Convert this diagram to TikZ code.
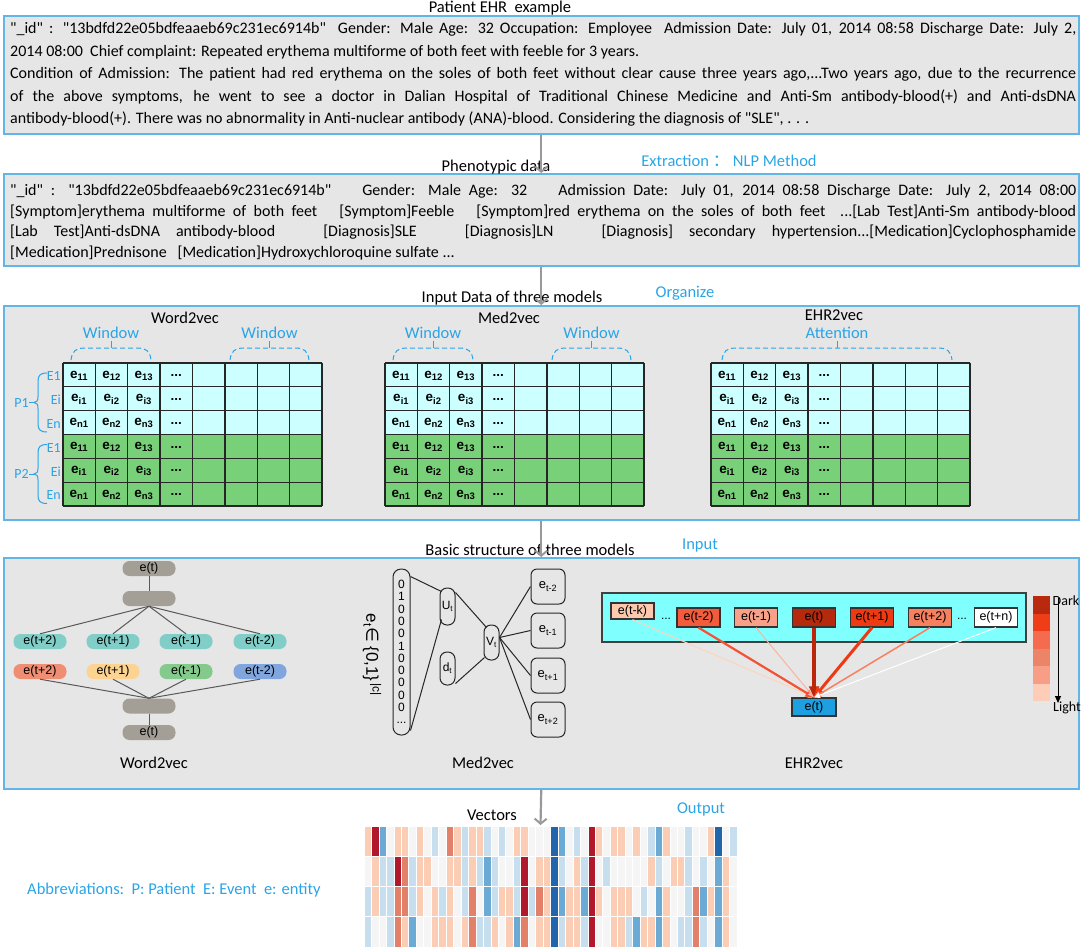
\documentclass[tikz,border=0pt]{standalone}
\usepackage{fontspec}
\setmainfont{Carlito}
\newfontfamily\bodyfont{Carlito}
\newfontfamily\arialfont{Liberation Sans}
\newfontfamily\dejavufont{DejaVu Sans}
\newfontfamily\cjkfont{Noto Sans CJK SC}
\usetikzlibrary{arrows.meta}

\definecolor{panelgray}{HTML}{E6E6E6}
\definecolor{panelblue}{HTML}{62B6E7}
\definecolor{noteblue}{HTML}{2AA4E6}
\definecolor{flowgray}{HTML}{999999}
\definecolor{cellcyan}{HTML}{CCFFFF}
\definecolor{cellgreen}{HTML}{78D078}
\definecolor{pillgray}{HTML}{A39E96}
\definecolor{pillteal}{HTML}{80CEC7}
\definecolor{pillsalmon}{HTML}{F08E74}
\definecolor{pillyellow}{HTML}{FDD391}
\definecolor{pillgreen}{HTML}{84CA8D}
\definecolor{pillblue}{HTML}{80A6DD}
\definecolor{ctxcyan}{HTML}{80FFFF}
\definecolor{tgtblue}{HTML}{1E9FE0}
\definecolor{ehrk}{HTML}{FCC9AE}
\definecolor{ehrmtwo}{HTML}{F35B3B}
\definecolor{ehrmone}{HTML}{F8A088}
\definecolor{ehrzero}{HTML}{B52A0C}
\definecolor{ehrpone}{HTML}{EE3A12}
\definecolor{ehrptwo}{HTML}{F7805F}
\definecolor{lgA}{HTML}{B8290D}
\definecolor{lgB}{HTML}{EE3D17}
\definecolor{lgC}{HTML}{F56B50}
\definecolor{lgD}{HTML}{EC8467}
\definecolor{lgE}{HTML}{F99E86}
\definecolor{lgF}{HTML}{FDCDB7}
\definecolor{hmR}{HTML}{B2182B}
\definecolor{hmS}{HTML}{E3806A}
\definecolor{hmP}{HTML}{FBCDB4}
\definecolor{hmW}{HTML}{F5F5F5}
\definecolor{hmL}{HTML}{C6DEEE}
\definecolor{hmM}{HTML}{6AAAD4}
\definecolor{hmD}{HTML}{2166AC}

\newcommand{\jline}[1]{\makebox[1066pt][s]{#1}}

\tikzset{
  panel/.style={draw=panelblue, line width=1.5pt, fill=panelgray, inner sep=0pt},
  heading/.style={font=\fontsize{16.5}{18}\selectfont, inner sep=0pt},
  bluenote/.style={heading, text=noteblue},
  body/.style={font=\bodyfont\fontsize{16}{20}\selectfont, inner sep=0pt, anchor=base west},
  flow/.style={draw=flowgray, line width=2.2pt, -{Straight Barb[length=5pt,width=12pt,line width=2pt]}},
  gridline/.style={draw=black!85, line width=1.3pt},
  ecell/.style={font=\arialfont\bfseries\fontsize{13.5}{14}\selectfont, inner sep=0pt},
  sidelab/.style={text=noteblue, font=\fontsize{14}{15}\selectfont, inner sep=0pt},
  winbrace/.style={draw=noteblue, dash pattern=on 5pt off 3pt, line width=1pt},
  pbrace/.style={draw=noteblue, line width=1pt},
  pill/.style={rounded corners=7pt, minimum width=53pt, minimum height=15pt, inner sep=0pt, fill=pillgray, font=\arialfont\fontsize{12.5}{12.5}\selectfont},
  wline/.style={draw=black!65, line width=1pt},
  onehot/.style={draw=black!85, line width=1pt, rounded corners=8pt, minimum width=17pt, minimum height=166pt, inner sep=0pt, align=center, font=\arialfont\fontsize{12}{12.3}\selectfont},
  mpill/.style={draw=black!85, line width=1pt, rounded corners=7pt, minimum width=15pt, inner sep=0pt, font=\arialfont\fontsize{12}{12}\selectfont},
  mbox/.style={draw=black!85, line width=1pt, rounded corners=6pt, minimum width=34pt, minimum height=35pt, inner sep=0pt, font=\arialfont\fontsize{13}{13}\selectfont},
  mline/.style={draw=black!85, line width=1pt},
  ebox/.style={draw=black!80, line width=1.2pt, minimum width=43pt, minimum height=19pt, inner sep=0pt, font=\arialfont\fontsize{12.5}{13}\selectfont},
  att/.style={-{Triangle[length=4pt 2, width=4pt 1.6]}},
}

\begin{document}
\begin{tikzpicture}[x=1pt, y=-1pt]
  \useasboundingbox (0,0) rectangle (1084,951);

  \node[panel, anchor=north west, minimum width=1075pt, minimum height=118pt] (ehrbox) at (3,15) {};
  \node[panel, anchor=north west, minimum width=1075pt, minimum height=92pt] (phenobox) at (3,173) {};
  \node[panel, anchor=north west, minimum width=1075pt, minimum height=214pt] (inputbox) at (3,305) {};
  \node[panel, anchor=north west, minimum width=1075pt, minimum height=231pt] (structbox) at (3,557) {};

  \node[heading] (ehrtitle) at (500,8) {Patient EHR\ \ example};
  \node[body] (ehr1) at (10,33.5) {\jline{"\_id" : "13bdfd22e05bdfeaaeb69c231ec6914b"\ \ Gender: Male Age: 32 Occupation: Employee\ \ Admission Date: July 01, 2014 08:58 Discharge Date: July 2,}};
  \node[body] (ehr2) at (10,56) {2014 08:00\ \ Chief complaint: Repeated erythema multiforme of both feet with feeble for 3 years.};
  \node[body] (ehr3) at (10,78.5) {\jline{Condition of Admission: The patient had red erythema on the soles of both feet without clear cause three years ago,...Two years ago, due to the recurrence}};
  \node[body] (ehr4) at (10,101) {\jline{of the above symptoms, he went to see a doctor in Dalian Hospital of Traditional Chinese Medicine and Anti-Sm antibody-blood(+) and Anti-dsDNA}};
  \node[body] (ehr5) at (10,123.5) {antibody-blood(+). There was no abnormality in Anti-nuclear antibody (ANA)-blood. Considering the diagnosis of "SLE", . . .};

  \node[heading] (phenotitle) at (496,167) {Phenotypic data};
  \node[bluenote] (extract) at (729,161) {Extraction {\cjkfont ：} NLP Method};
  \node[body] (phe1) at (10,195.5) {\jline{"\_id" : "13bdfd22e05bdfeaaeb69c231ec6914b"\ \ \ \ Gender: Male Age: 32\ \ \ \ Admission Date: July 01, 2014 08:58 Discharge Date: July 2, 2014 08:00}};
  \node[body] (phe2) at (10,216) {\jline{[Symptom]erythema multiforme of both feet\ \ \ [Symptom]Feeble\ \ \ [Symptom]red erythema on the soles of both feet\ \ ...[Lab Test]Anti-Sm antibody-blood}};
  \node[body] (phe3) at (10,236.5) {\jline{[Lab Test]Anti-dsDNA antibody-blood\ \ \ [Diagnosis]SLE\ \ \ [Diagnosis]LN\ \ \ [Diagnosis] secondary hypertension...[Medication]Cyclophosphamide}};
  \node[body] (phe4) at (10,257) {[Medication]Prednisone\ \ \ [Medication]Hydroxychloroquine sulfate ...};

  \node[heading] (inputtitle) at (512,298) {Input Data of three models};
  \node[bluenote] (organize) at (685,293) {Organize};
  \node[heading] (mtw) at (185,318) {Word2vec};
  \node[heading] (mtm) at (509,318) {Med2vec};
  \node[heading] (mte) at (834,315) {EHR2vec};

  \foreach \mx in {63,385,711} {
    \fill[cellcyan] (\mx,363) rectangle (\mx+259,434.5);
    \fill[cellgreen] (\mx,434.5) rectangle (\mx+259,506);
    \foreach \i in {0,...,8}
      \draw[gridline] (\mx+\i*32.375,363) -- (\mx+\i*32.375,506);
    \foreach \j in {0,...,6}
      \draw[gridline] (\mx,363+\j*23.833) -- (\mx+259,363+\j*23.833);
    \foreach \s [count=\r from 0] in {1,i,n,1,i,n} {
      \foreach \c in {1,2,3}
        \node[ecell] (e\mx-\r-\c) at (\mx+\c*32.375-16.19, 363+\r*23.833+12.5) {e\textsubscript{\s\c}};
      \node[ecell] (d\mx-\r) at (\mx+4*32.375-16.19, 363+\r*23.833+12.5) {...};
    }
  }

  \foreach \a/\b/\lab in {71/151/Window, 230/309/Window, 393/473/Window, 552/631/Window, 722/952/Attention} {
    \draw[winbrace] (\a,360) .. controls (\a+1,351) and (\a+5,348) .. (\a+14,348) -- (\b-14,348) .. controls (\b-5,348) and (\b-1,351) .. (\b,360);
    \draw[pbrace] ({(\a+\b)/2},348) -- ({(\a+\b)/2},341);
    \node[bluenote] (win\a) at ({(\a+\b)/2},333) {\lab};
  }

  \foreach \lab [count=\r from 0] in {E1,Ei,En,E1,Ei,En}
    \node[sidelab, anchor=east] (side\r) at (61,363+\r*23.833+13) {\lab};
  \foreach \pc/\pn in {402.5/1,474/2} {
    \draw[pbrace] (47,\pc-29.5) .. controls (40,\pc-29.5) and (38,\pc-27) .. (38,\pc-21) -- (38,\pc-6) .. controls (38,\pc-2) and (37,\pc) .. (34,\pc) .. controls (37,\pc) and (38,\pc+2) .. (38,\pc+6) -- (38,\pc+21) .. controls (38,\pc+27) and (40,\pc+29.5) .. (47,\pc+29.5);
    \coordinate (tip\pn) at (34,\pc);
    \node[sidelab, anchor=east] (P\pn) at (29,\pc) {P\pn};
    \draw[pbrace] (P\pn.east) -- (tip\pn);
  }

  \node[heading] (structtitle) at (530,550) {Basic structure of three models};
  \node[bluenote] (inputnote) at (700,546) {Input};

  \node[pill] (wout) at (149,568.5) {e(t)};
  \node[pill] (whid) at (149,598.5) {};
  \node[pill, fill=pillteal] (wc1) at (40,641.5) {e(t+2)};
  \node[pill, fill=pillteal] (wc2) at (113,641.5) {e(t+1)};
  \node[pill, fill=pillteal] (wc3) at (186,641.5) {e(t-1)};
  \node[pill, fill=pillteal] (wc4) at (260,641.5) {e(t-2)};
  \node[pill, fill=pillsalmon] (wi1) at (40,671.5) {e(t+2)};
  \node[pill, fill=pillyellow] (wi2) at (113,671.5) {e(t+1)};
  \node[pill, fill=pillgreen] (wi3) at (186,671.5) {e(t-1)};
  \node[pill, fill=pillblue] (wi4) at (260,671.5) {e(t-2)};
  \node[pill] (wproj) at (149,706) {};
  \node[pill] (win) at (149,732.5) {e(t)};
  \draw[wline] (wout) -- (whid);
  \foreach \n in {wc1,wc2,wc3,wc4}
    \draw[wline] (whid.south) -- (\n.north);
  \foreach \n in {wi1,wi2,wi3,wi4}
    \draw[wline] (\n.south) -- (wproj.north);
  \draw[wline] (wproj) -- (win);
  \node[heading] (wlab) at (154,763) {Word2vec};

  \node[onehot] (m2vin) at (401.5,652) {0\\1\\0\\0\\0\\1\\0\\0\\0\\0\\0\\...};
  \node[rotate=-90, inner sep=0pt, font=\arialfont\fontsize{17}{18}\selectfont] (m2vset) at (372,655) {e\textsubscript{t}{\dejavufont ∈} \{0,1\}\textsuperscript{\,|c|}};
  \node[mpill, minimum height=37pt] (mu) at (447.5,606.5) {U\textsubscript{t}};
  \node[mpill, minimum height=33pt] (md) at (447.5,668.5) {d\textsubscript{t}};
  \node[mpill, minimum height=35pt] (mv) at (491.5,642.5) {V\textsubscript{t}};
  \node[mbox] (mo1) at (548,586.5) {e\textsubscript{t-2}};
  \node[mbox] (mo2) at (548,630.5) {e\textsubscript{t-1}};
  \node[mbox] (mo3) at (548,675.5) {e\textsubscript{t+1}};
  \node[mbox] (mo4) at (548,719.5) {e\textsubscript{t+2}};
  \draw[mline] ([yshift=-8pt]m2vin.north east) -- ([xshift=2pt,yshift=-4pt]mu.north west);
  \draw[mline] ([yshift=5pt]m2vin.south east) -- ([xshift=2pt,yshift=6pt]mu.south west);
  \draw[mline] ([yshift=-5pt]mu.north east) -- ([xshift=3pt,yshift=-3pt]mv.north west);
  \draw[mline] ([yshift=2pt]md.south east) -- ([xshift=1pt,yshift=3pt]mv.south west);
  \foreach \n in {mo1,mo2,mo3,mo4}
    \draw[mline] ([yshift=5pt]mv.east) -- (\n.west);
  \node[heading] (mlab) at (483,763) {Med2vec};

  \node[draw=black!75, line width=1.5pt, fill=ctxcyan, minimum width=424pt, minimum height=49pt] (ctx) at (814,617.5) {};
  \node[ebox, fill=ehrk, minimum height=16pt] (etk) at (632.5,611) {e(t-k)};
  \node[inner sep=0pt, font=\arialfont\fontsize{12}{12}\selectfont] (edots1) at (666,619) {...};
  \node[ebox, fill=ehrmtwo] (etm2) at (698.5,617.5) {e(t-2)};
  \node[ebox, fill=ehrmone] (etm1) at (756,617.5) {e(t-1)};
  \node[ebox, fill=ehrzero] (et0) at (814,617.5) {e(t)};
  \node[ebox, fill=ehrpone] (etp1) at (872,617.5) {e(t+1)};
  \node[ebox, fill=ehrptwo] (etp2) at (930,617.5) {e(t+2)};
  \node[inner sep=0pt, font=\arialfont\fontsize{12}{12}\selectfont] (edots2) at (962,619) {...};
  \node[ebox, fill=white] (etn) at (996,617.5) {e(t+n)};
  \node[ebox, fill=tgtblue, minimum width=44pt, minimum height=18pt] (tgt) at (814,707) {e(t)};
  \draw[att, draw=ehrk!80!white, line width=1pt] (etk.south) -- (tgt.north);
  \draw[att, draw=ehrmtwo!90!red, line width=2.2pt] (etm2.south) -- (tgt.north);
  \draw[att, draw=ehrmone!80!white, line width=1pt] (etm1.south) -- (tgt.north);
  \draw[att, draw=ehrzero!90!red, line width=3.5pt] (et0.south) -- (tgt.north);
  \draw[att, draw=ehrpone, line width=3pt] (etp1.south) -- (tgt.north);
  \draw[att, draw=ehrptwo, line width=1.5pt] (etp2.south) -- (tgt.north);
  \draw[att, draw=white, line width=1pt] (etn.south) -- (tgt.north);
  \foreach \c [count=\k from 0] in {lgA,lgB,lgC,lgD,lgE,lgF}
    \fill[\c] (1033,596+\k*17.5) rectangle (1050,613.5+\k*17.5);
  \coordinate (lgtop) at (1058,598);
  \coordinate (lgbot) at (1058,703);
  \draw[-{Triangle[length=7pt,width=6pt]}, line width=1pt] (lgtop) -- (lgbot);
  \node[inner sep=0pt, font=\fontsize{14}{15}\selectfont] (dark) at (1066,601) {Dark};
  \node[inner sep=0pt, font=\fontsize{14}{15}\selectfont] (light) at (1067,708) {Light};
  \node[heading] (elab) at (814,763) {EHR2vec};

  \node[heading] (vectitle) at (492,815) {Vectors};
  \node[bluenote] (outnote) at (701,809) {Output};
  \foreach \row [count=\r from 0] in {
    {P,R,M,W,P,P,W,P,W,L,W,S,P,L,P,P,L,W,L,W,P,P,W,W,W,D,M,W,L,W,R,P,W,P,P,W,P,W,L,M,P,W,W,L,W,W,P,D,W,L},
    {W,P,L,L,R,S,L,P,P,W,W,P,P,L,P,L,M,L,W,W,L,R,W,P,P,D,L,W,P,L,R,W,L,W,W,W,W,W,P,L,W,P,P,L,W,L,W,M,P,W},
    {L,P,L,L,S,S,L,P,W,P,L,P,W,L,S,W,M,L,P,P,L,R,L,S,P,D,M,P,P,M,R,P,W,P,P,P,W,L,W,M,P,W,W,L,S,M,P,M,P,W},
    {L,W,W,L,S,P,M,W,W,P,P,P,W,P,S,L,L,P,W,P,M,S,W,P,P,D,L,P,P,L,R,W,W,P,P,L,M,P,P,M,P,W,L,L,S,L,W,M,P,W}} {
    \foreach \v [count=\c from 0] in \row
      \filldraw[fill=hm\v, draw=white, line width=0.6pt] (364+\c*7.46,826+\r*30.25) rectangle (371.46+\c*7.46,856.25+\r*30.25);
  }
  \node[bluenote, anchor=west] (abbrev) at (27,890) {Abbreviations:\ \ P: Patient\ \ E: Event\ \ e: entity};

  \coordinate (vectop) at (540.5,825);
  \draw[flow] (ehrbox.south) -- (phenobox.north);
  \draw[flow] (phenobox.south) -- (inputbox.north);
  \draw[flow] (inputbox.south) -- (structbox.north);
  \draw[flow] (structbox.south) -- (vectop);
\end{tikzpicture}
\end{document}
